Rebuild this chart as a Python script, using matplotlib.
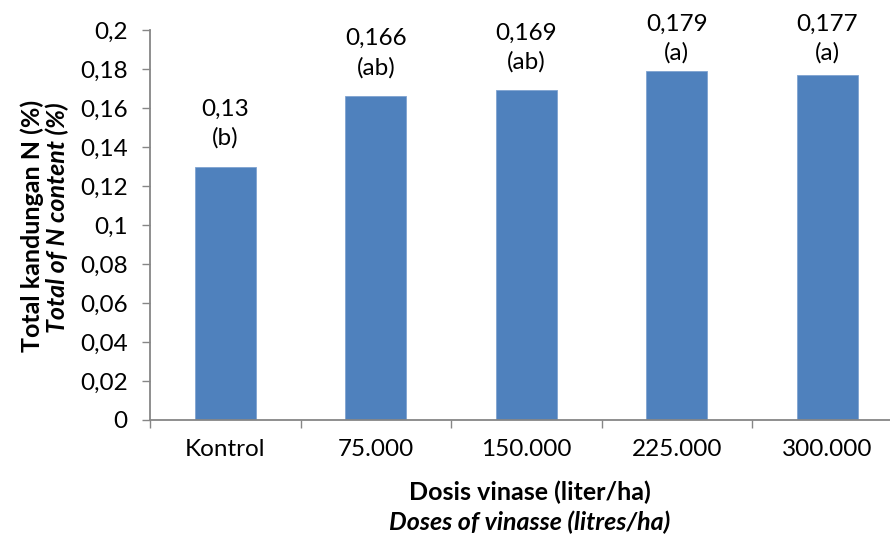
import matplotlib
matplotlib.use("Agg")
import matplotlib.pyplot as plt
import numpy as np

# data
categories = ["Kontrol", "75.000", "150.000", "225.000", "300.000"]
values = [0.13, 0.166, 0.169, 0.179, 0.177]
letters = ["(b)", "(ab)", "(ab)", "(a)", "(a)"]
yticks = [0, 0.02, 0.04, 0.06, 0.08, 0.1, 0.12, 0.14, 0.16, 0.18, 0.2]

plt.rcParams['font.family'] = ['Lato', 'DejaVu Sans']
fs = 17.5
grey = '#868686'
W, H = 890, 539

fig = plt.figure(figsize=(W / 100, H / 100), dpi=100)
ax = fig.add_axes([150 / W, 119 / H, 752.5 / W, 390 / H])

x = np.arange(len(categories))
ax.bar(x, values, width=0.405, color='#4F81BD', edgecolor='#7FA3D0', linewidth=0.6, zorder=2)

ax.set_xlim(-0.5, 4.5)
ax.set_ylim(0, 0.2)

# labels above bars (pushed down when they would leave the picture, like excel does)
for xi, v, lt in zip(x, values, letters):
    px, py = ax.transData.transform((xi, v))
    base2 = py + 22
    base1 = base2 + 29
    if base1 > H - 31:
        base1 = H - 31
        base2 = base1 - 29
    lab = ("%g" % v).replace(".", ",")
    ax.annotate(lt, (xi, v), xytext=(px, base2), textcoords='figure pixels',
                ha='center', va='baseline', fontsize=fs)
    ax.annotate(lab, (xi, v), xytext=(px, base1), textcoords='figure pixels',
                ha='center', va='baseline', fontsize=fs)

ax.set_yticks(yticks)
ax.set_yticklabels([("%g" % t).replace(".", ",") for t in yticks])
ax.set_xticks(np.arange(-0.5, 5, 1), minor=False)
ax.set_xticklabels([])
ax.set_xticks(x, minor=True)
ax.set_xticklabels(categories, minor=True)

ax.tick_params(axis='y', length=6, width=1, color=grey, labelsize=fs, pad=10)
ax.tick_params(axis='x', which='major', length=6, width=1, color=grey)
ax.tick_params(axis='x', which='minor', length=0, labelsize=fs, pad=14)

for s in ['top', 'right']:
    ax.spines[s].set_visible(False)
for s in ['left', 'bottom']:
    ax.spines[s].set_color(grey)
    ax.spines[s].set_linewidth(1.3)

# axis titles
tfs = 18
fig.text(530 / W, 1 - 500 / H, "Dosis vinase (liter/ha)", ha='center', va='baseline',
         fontsize=tfs, fontweight='bold')
fig.text(530 / W, 1 - 530 / H, "Doses of vinasse (litres/ha)", ha='center', va='baseline',
         fontsize=tfs, fontweight='bold', style='italic')
fig.text(32 / W, 1 - 100 / H, "Total kandungan N (%)", ha='center', va='top',
         rotation=90, fontsize=tfs, fontweight='bold')
fig.text(57 / W, 1 - 102 / H, "Total of N content (%)", ha='center', va='top',
         rotation=90, fontsize=tfs, fontweight='bold', style='italic')

fig.savefig("out.png", dpi=100)
